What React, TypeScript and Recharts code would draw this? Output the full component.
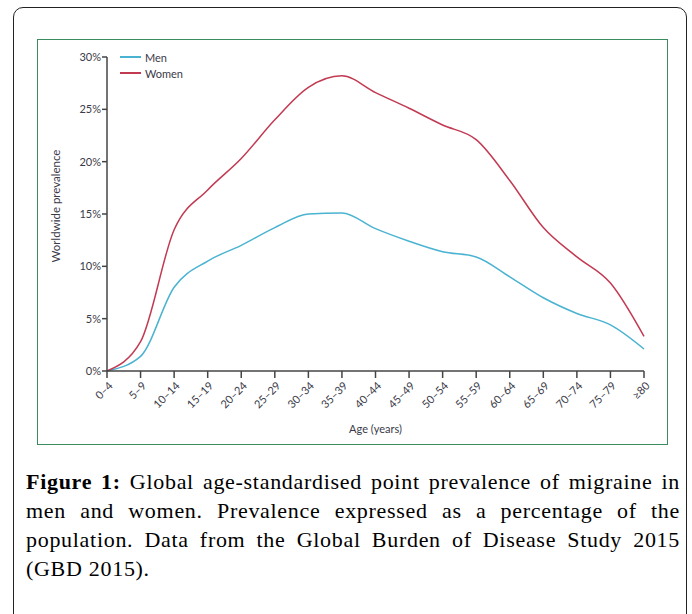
import React from 'react';
import { LineChart, Line, XAxis, YAxis, Label } from 'recharts';

const ageGroups = [
  '0–4', '5–9', '10–14', '15–19', '20–24', '25–29', '30–34', '35–39', '40–44',
  '45–49', '50–54', '55–59', '60–64', '65–69', '70–74', '75–79', '≥80',
];
const menPrevalence = [0, 1.4, 8.0, 10.5, 12.0, 13.7, 15.0, 15.1, 13.6, 12.4, 11.4, 10.9, 9.0, 7.0, 5.5, 4.4, 2.1];
const womenPrevalence = [0, 2.8, 13.5, 17.3, 20.3, 24.0, 27.1, 28.2, 26.6, 25.1, 23.5, 22.1, 18.2, 13.7, 10.9, 8.4, 3.3];
const yTicks = [0, 5, 10, 15, 20, 25, 30];

const MEN = '#4ab3d1';
const WOMEN = '#c23a52';
const AXIS = '#444';
const TEXT = '#3a3a48';
const FONT = 'Lato, "Open Sans", sans-serif';

const data = ageGroups.map((age, i) => ({
  age,
  men: menPrevalence[i],
  women: womenPrevalence[i],
}));

const legendItems = [
  { name: 'Men', color: MEN },
  { name: 'Women', color: WOMEN },
];

const captionLines = [
  'Global age-standardised point prevalence of migraine in',
  'men and women. Prevalence expressed as a percentage of the',
  'population. Data from the Global Burden of Disease Study 2015',
  '(GBD 2015).',
];

function AgeTick({ x, y, payload }: any) {
  return (
    <g transform={`translate(${x + 1},${y})`}>
      <text
        x={0}
        y={0}
        dy="0.7em"
        textAnchor="end"
        transform="rotate(-45)"
        fill={TEXT}
        fontSize={11}
        fontFamily={FONT}
      >
        {payload.value}
      </text>
    </g>
  );
}

export default function App() {
  return (
    <div
      style={{
        position: 'absolute',
        left: 0,
        top: 0,
        width: 692,
        height: 614,
        overflow: 'hidden',
        background: '#fff',
      }}
    >
      {/* outer frame, runs off the bottom */}
      <div
        style={{
          position: 'absolute',
          left: 13,
          top: 7,
          width: 674,
          height: 700,
          boxSizing: 'border-box',
          border: '1.5px solid #222',
          borderRadius: 10,
        }}
      />
      {/* green chart box */}
      <div
        style={{
          position: 'absolute',
          left: 37,
          top: 39,
          width: 631,
          height: 406,
          boxSizing: 'border-box',
          border: '1.5px solid #3a8c5f',
        }}
      />
      <div style={{ position: 'absolute', left: 0, top: 0 }}>
        <LineChart
          width={692}
          height={460}
          data={data}
          margin={{ top: 57, right: 48, left: 47, bottom: 25 }}
        >
          <XAxis
            dataKey="age"
            interval={0}
            height={64}
            tick={<AgeTick />}
            tickSize={7}
            tickMargin={3}
            axisLine={{ stroke: AXIS, strokeWidth: 1.5 }}
            tickLine={{ stroke: AXIS, strokeWidth: 1.5 }}
          >
            <Label
              value="Age (years)"
              position="insideBottom"
              offset={2}
              style={{ fontFamily: FONT, fontSize: 11, fill: TEXT }}
            />
          </XAxis>
          <YAxis
            width={60}
            domain={[0, 30]}
            ticks={yTicks}
            tickFormatter={(v) => `${v}%`}
            tickSize={5}
            tickMargin={1}
            tick={{ fontFamily: FONT, fontSize: 11, fill: TEXT }}
            axisLine={{ stroke: AXIS, strokeWidth: 1.5 }}
            tickLine={{ stroke: AXIS, strokeWidth: 1.5 }}
          >
            <Label
              value="Worldwide prevalence"
              angle={-90}
              position="insideLeft"
              offset={9}
              dy={-8}
              style={{ fontFamily: FONT, fontSize: 11.5, fill: TEXT, textAnchor: 'middle' }}
            />
          </YAxis>
          <Line
            type="monotone"
            dataKey="men"
            name="Men"
            stroke={MEN}
            strokeWidth={1.5}
            dot={false}
            isAnimationActive={false}
          />
          <Line
            type="monotone"
            dataKey="women"
            name="Women"
            stroke={WOMEN}
            strokeWidth={1.5}
            dot={false}
            isAnimationActive={false}
          />
        </LineChart>
      </div>
      {/* legend */}
      <div
        style={{
          position: 'absolute',
          left: 120,
          top: 49,
          fontFamily: FONT,
          fontSize: 11,
          color: TEXT,
        }}
      >
        {legendItems.map((it) => (
          <div key={it.name} style={{ display: 'flex', alignItems: 'center', height: 16 }}>
            <span
              style={{ display: 'inline-block', width: 21, height: 1.5, background: it.color, marginRight: 4 }}
            />
            <span>{it.name}</span>
          </div>
        ))}
      </div>
      {/* caption */}
      <div
        style={{
          position: 'absolute',
          left: 26,
          top: 467,
          width: 654,
          fontFamily: '"Liberation Serif", "DejaVu Serif", serif',
          fontSize: 22,
          letterSpacing: 0.7,
          lineHeight: '29px',
          color: '#000',
        }}
      >
        {captionLines.map((line, i) => (
          <div
            key={i}
            style={{
              whiteSpace: 'nowrap',
              textAlign: 'justify',
              textAlignLast: i < captionLines.length - 1 ? 'justify' : 'left',
            }}
          >
            {i === 0 && <b>Figure 1: </b>}
            {line}
          </div>
        ))}
      </div>
    </div>
  );
}
